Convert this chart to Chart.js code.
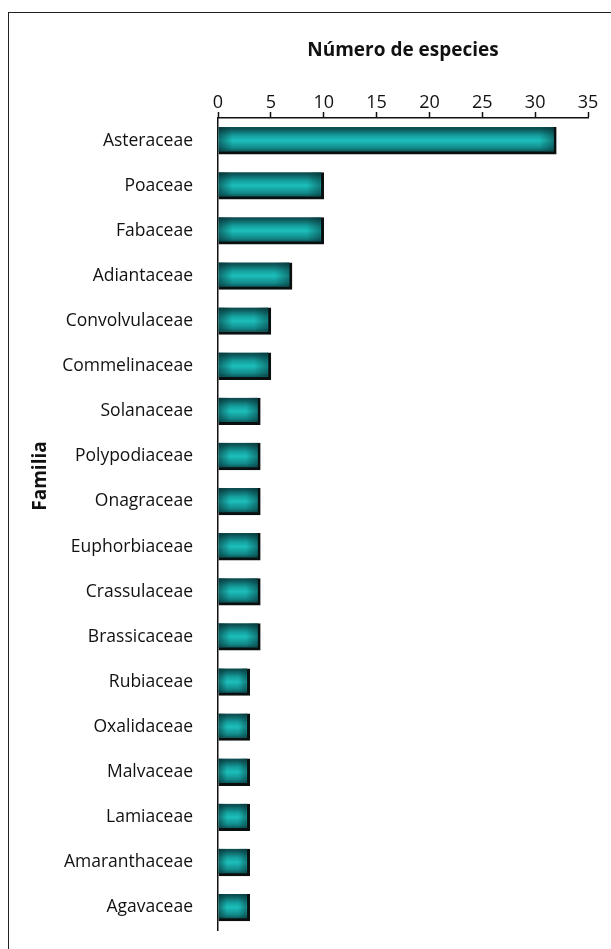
<!DOCTYPE html>
<html>
<head>
<meta charset="utf-8">
<script src="https://cdn.jsdelivr.net/npm/chart.js@4.4.1/dist/chart.umd.min.js"></script>
<style>
  html, body { margin: 0; padding: 0; background: #fff; overflow: hidden; }
  #frame {
    position: absolute; left: 8px; top: 12px;
    width: 700px; height: 1000px;
    border-left: 1.5px solid #222; border-top: 1.5px solid #222;
  }
  #wrap { position: absolute; left: 0; top: 0; width: 611px; height: 949px; }
</style>
</head>
<body>
<div id="frame"></div>
<div id="wrap"><canvas id="chart" width="611" height="949"></canvas></div>
<script>
// familias y número de especies
const familias = [
  'Asteraceae', 'Poaceae', 'Fabaceae', 'Adiantaceae', 'Convolvulaceae',
  'Commelinaceae', 'Solanaceae', 'Polypodiaceae', 'Onagraceae', 'Euphorbiaceae',
  'Crassulaceae', 'Brassicaceae', 'Rubiaceae', 'Oxalidaceae', 'Malvaceae',
  'Lamiaceae', 'Amaranthaceae', 'Agavaceae'
];
const especies = [32, 10, 10, 7, 5, 5, 4, 4, 4, 4, 4, 4, 3, 3, 3, 3, 3, 3];
const ejeMax = 35;
const ejePaso = 5;

const FONT = "'Open Sans', 'Liberation Sans', sans-serif";
const BAR_H = 24;

// degradado vertical de cada barra (oscuro arriba/abajo, claro al centro)
function barFill(ctx) {
  const chart = ctx.chart;
  const yScale = chart.scales.y;
  if (!yScale || ctx.dataIndex === undefined) return '#1aa8a6';
  const yc = yScale.getPixelForValue(ctx.dataIndex);
  if (!isFinite(yc)) return '#1aa8a6';
  const g = chart.ctx.createLinearGradient(0, yc - BAR_H / 2, 0, yc + BAR_H / 2);
  g.addColorStop(0, '#0c4f52');
  g.addColorStop(0.3, '#15a09e');
  g.addColorStop(0.5, '#1cbfbb');
  g.addColorStop(0.8, '#128b8b');
  g.addColorStop(1, '#0b4a4d');
  return g;
}

// sombreado horizontal en los extremos de cada barra
const endShade = {
  id: 'endShade',
  afterDatasetsDraw(chart) {
    const c = chart.ctx;
    chart.getDatasetMeta(0).data.forEach(bar => {
      const x0 = bar.base, x1 = bar.x;
      const top = bar.y - bar.height / 2;
      const w = x1 - x0 - 3;
      if (!(w > 0)) return;
      const g = c.createLinearGradient(x0, 0, x0 + w, 0);
      const edge = Math.min(0.3, 14 / w);
      g.addColorStop(0, 'rgba(5,45,48,0.55)');
      g.addColorStop(edge, 'rgba(5,45,48,0)');
      g.addColorStop(1 - edge, 'rgba(5,45,48,0)');
      g.addColorStop(1, 'rgba(5,45,48,0.45)');
      c.save();
      c.fillStyle = g;
      c.fillRect(x0, top, w, bar.height - 3);
      c.restore();
    });
  }
};

// el título "Familia" va algo por encima del centro del eje
const titleShift = {
  id: 'titleShift',
  beforeDraw(chart) {
    const y = chart.scales.y;
    if (y._shifted) return;
    const orig = y.drawTitle.bind(y);
    y.drawTitle = function () {
      const b = this.bottom;
      this.bottom = b - 96;
      orig();
      this.bottom = b;
    };
    y._shifted = true;
  }
};

const chart = new Chart(document.getElementById('chart'), {
  type: 'bar',
  data: {
    labels: familias,
    datasets: [{
      data: especies,
      backgroundColor: barFill,
      borderColor: '#0a0f10',
      borderWidth: { top: 0, left: 0, right: 3, bottom: 3 },
      borderSkipped: false,
      barThickness: BAR_H + 3
    }]
  },
  plugins: [endShade, titleShift],
  options: {
    indexAxis: 'y',
    responsive: false,
    animation: false,
    layout: { padding: { left: 0, right: 23, top: 0, bottom: 19 } },
    plugins: {
      legend: { display: false },
      tooltip: { enabled: false }
    },
    scales: {
      x: {
        position: 'top',
        min: 0,
        max: ejeMax,
        afterFit: s => { s.height = 118; s.paddingLeft = 0; },
        ticks: {
          stepSize: ejePaso,
          color: '#111',
          padding: -2,
          font: { family: FONT, size: 18 }
        },
        grid: {
          drawOnChartArea: false,
          drawTicks: true,
          tickLength: 6,
          tickColor: '#111',
          tickWidth: 1.5
        },
        border: { display: true, color: '#111', width: 1.5 },
        title: {
          display: true,
          text: 'Número de especies',
          color: '#111',
          font: { family: FONT, size: 19, weight: 'bold' },
          padding: { top: 39, bottom: 0 }
        }
      },
      y: {
        afterFit: s => { s.width = 218; s.paddingTop = 0; s.paddingBottom = 0; },
        ticks: {
          color: '#111',
          padding: 25,
          font: { family: FONT, size: 17.5 }
        },
        grid: { display: false, drawTicks: false },
        border: { display: true, color: '#111', width: 1.5 },
        title: {
          display: true,
          text: 'Familia',
          color: '#111',
          font: { family: FONT, size: 19, weight: 'bold' },
          padding: { top: 29, bottom: 0 }
        }
      }
    }
  }
});
// los degradados dependen de la escala: segundo pase
chart.update();
</script>
</body>
</html>
